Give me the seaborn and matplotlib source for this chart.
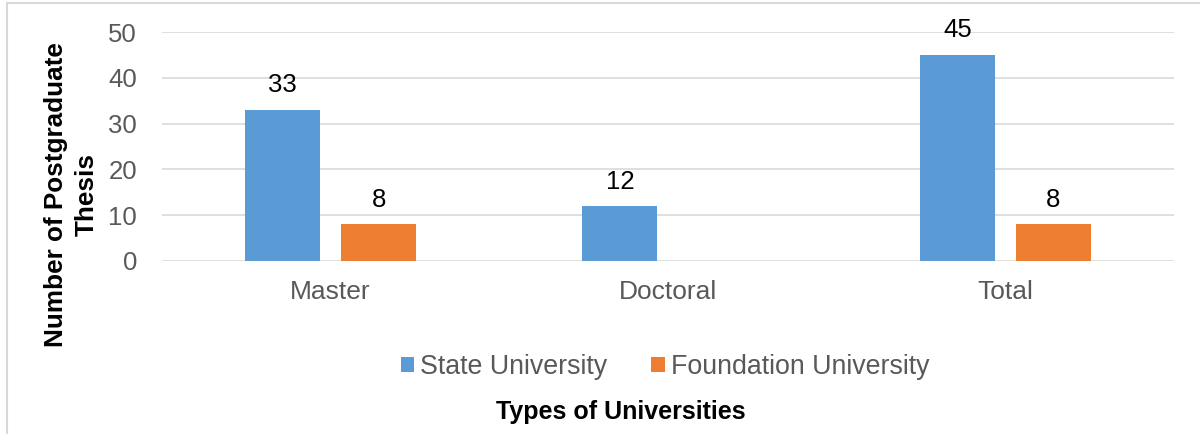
import matplotlib
matplotlib.use("Agg")
import matplotlib.pyplot as plt
from matplotlib.lines import Line2D
import seaborn as sns
import pandas as pd

# Data
categories = ["Master", "Doctoral", "Total"]
state_university = [33, 12, 45]
foundation_university = [8, 0, 8]
series_names = ["State University", "Foundation University"]
y_ticks = [0, 10, 20, 30, 40, 50]

df = pd.DataFrame({
    "Type": categories * 2,
    "Series": [series_names[0]] * 3 + [series_names[1]] * 3,
    "Count": state_university + foundation_university,
})

sns.set_theme(style="white")
plt.rcParams["font.family"] = ["Liberation Sans", "DejaVu Sans"]

TICK_GREY = "#595959"
GRID_GREY = "#D9D9D9"
palette = {series_names[0]: "#5B9BD5", series_names[1]: "#ED7D31"}

fig = plt.figure(figsize=(12, 4.34), dpi=100)
ax = fig.add_axes([162 / 1200, 1 - 261 / 434, (1174 - 162) / 1200, (261 - 32) / 434])

sns.barplot(data=df, x="Type", y="Count", hue="Series", order=categories,
            hue_order=series_names, palette=palette, width=0.57, gap=0.22,
            saturation=1, linewidth=0, ax=ax, zorder=3)

ax.set_xlim(-0.5, 2.5)
ax.set_ylim(0, 50)
ax.set_yticks(y_ticks)
ax.yaxis.grid(True, color=GRID_GREY, linewidth=1.2, zorder=0)
ax.set_axisbelow(True)
for s in ax.spines.values():
    s.set_visible(False)
ax.tick_params(axis="y", length=0, colors=TICK_GREY, labelsize=18.5, pad=18)
ax.tick_params(axis="x", length=0, colors=TICK_GREY, labelsize=19, pad=14)
ax.set_xlabel("")
ax.set_ylabel("")

# Value labels above non-zero bars
for cont in ax.containers:
    for bar in cont:
        h = bar.get_height()
        if h > 0:
            ax.annotate(f"{h:g}", (bar.get_x() + bar.get_width() / 2, h),
                        xytext=(0, 9), textcoords="offset points",
                        ha="center", va="bottom", fontsize=18.5, color="black")

# Legend below the plot
handles, labels = ax.get_legend_handles_labels()
if ax.get_legend() is not None:
    ax.get_legend().remove()
fig.legend(handles, labels, loc="center", bbox_to_anchor=(665 / 1200, 1 - 367 / 434),
           ncol=2, frameon=False, fontsize=19.3, labelcolor=TICK_GREY,
           handlelength=0.5, handleheight=0.5, handletextpad=0.22,
           columnspacing=1.65)

# Axis titles
fig.text(621 / 1200, 1 - 412 / 434, "Types of Universities", ha="center", va="center",
         fontsize=18, fontweight="bold", color="black")
fig.text(71 / 1200, 1 - 195 / 434, "Number of Postgraduate\nThesis", ha="center",
         va="center", rotation=90, multialignment="center", fontsize=18.8,
         fontweight="bold", color="black", linespacing=1.35)

# Chart frame edges
fig.add_artist(Line2D([6.5 / 1200, 1], [1 - 2.5 / 434, 1 - 2.5 / 434],
                      transform=fig.transFigure, color=GRID_GREY, linewidth=1.5))
fig.add_artist(Line2D([6.5 / 1200, 6.5 / 1200], [0, 1 - 2.5 / 434],
                      transform=fig.transFigure, color=GRID_GREY, linewidth=1.5))

fig.savefig("out.png", dpi=100)
